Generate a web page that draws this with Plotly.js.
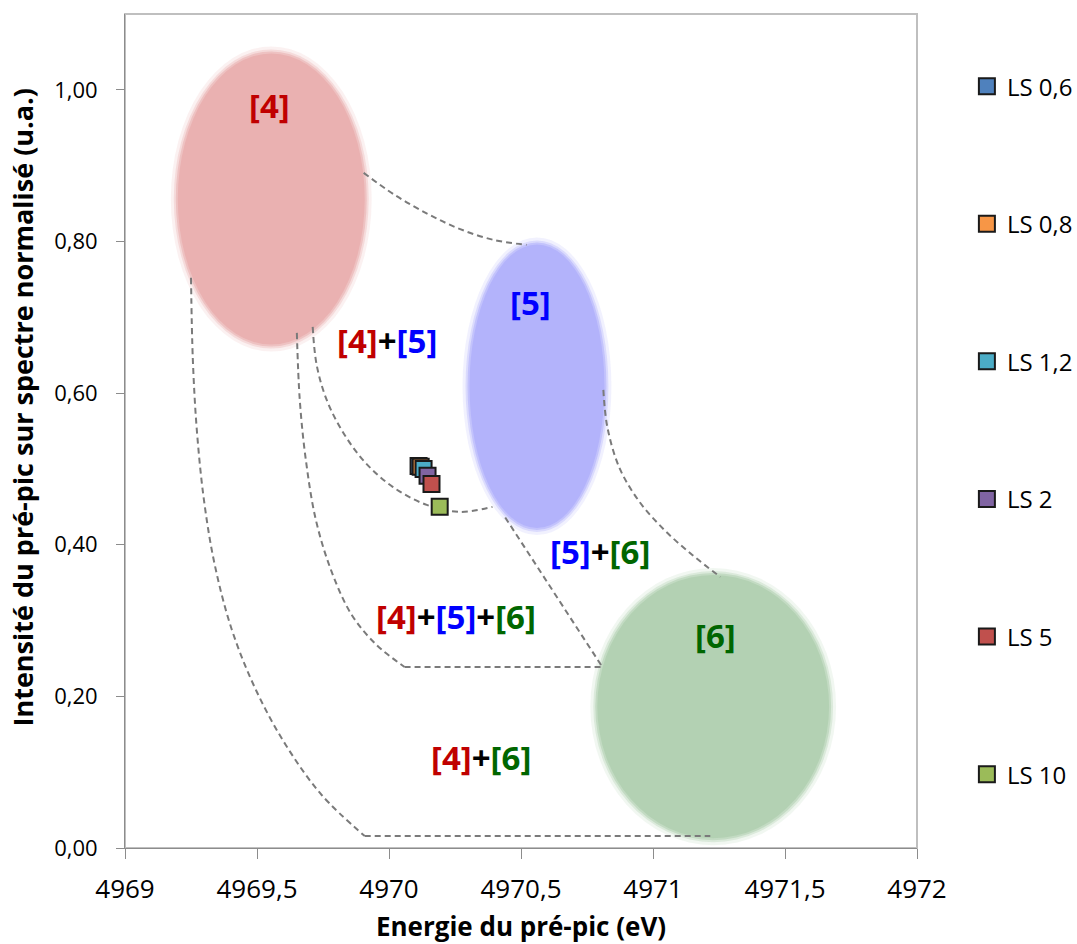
<!DOCTYPE html>
<html>
<head>
<meta charset="utf-8">
<script src="https://cdn.plot.ly/plotly-3.0.1.min.js"></script>
<style>html,body{margin:0;padding:0;background:#fff;}#chart{width:1077px;height:944px;}</style>
</head>
<body>
<div id="chart"></div>
<script>
// ---- series (energy in eV, normalised pre-peak intensity) ----
var seriesNames = ["LS 0,6", "LS 0,8", "LS 1,2", "LS 2", "LS 5", "LS 10"];
var seriesColors = ["#4f81bd", "#f79646", "#4bacc6", "#8064a2", "#c0504d", "#9bbb59"];
var seriesEnergy = [4970.112, 4970.120, 4970.131, 4970.146, 4970.161, 4970.192];
var seriesIntensity = [0.504, 0.503, 0.500, 0.491, 0.480, 0.450];

// ---- axis ticks ----
var xTickValues = [4969, 4969.5, 4970, 4970.5, 4971, 4971.5, 4972];
var xTickLabels = ["4969", "4969,5", "4970", "4970,5", "4971", "4971,5", "4972"];
var yTickValues = [0, 0.2, 0.4, 0.6, 0.8, 1.0];
var yTickLabels = ["0,00", "0,20", "0,40", "0,60", "0,80", "1,00"];

// ---- reference zones (ellipses) ----
var zoneNames = ["[4]", "[5]", "[6]"];
var zoneX0 = [4969.200, 4970.305, 4970.789];
var zoneX1 = [4969.908, 4970.816, 4971.667];
var zoneY0 = [0.664, 0.422, 0.013];
var zoneY1 = [1.048, 0.796, 0.360];
var zoneFill = ["rgb(234,177,177)", "rgb(179,179,251)", "rgb(179,209,179)"];

// ---- dashed boundary curves ----
var b1X = [4969.904, 4970.021, 4970.146, 4970.267, 4970.396, 4970.521];
var b1Y = [0.8905, 0.8615, 0.8364, 0.8166, 0.8021, 0.7955];
var b2X = [4969.711, 4969.726, 4969.764, 4969.825, 4969.908, 4970.014, 4970.143, 4970.267, 4970.392];
var b2Y = [0.6873, 0.6372, 0.5910, 0.5488, 0.5092, 0.4763, 0.4525, 0.4433, 0.4499];
var b3X = [4969.651, 4969.662, 4969.685, 4969.723, 4969.783, 4969.859, 4969.953, 4970.059];
var b3Y = [0.6794, 0.5910, 0.5119, 0.4327, 0.3641, 0.3074, 0.2678, 0.2388];
var b3sX = [4970.059, 4970.808, 4970.434];
var b3sY = [0.2388, 0.2388, 0.4393];
var b4X = [4969.250, 4969.257, 4969.272, 4969.299, 4969.340, 4969.405, 4969.496, 4969.609, 4969.745, 4969.908];
var b4Y = [0.752, 0.6438, 0.5515, 0.4591, 0.3734, 0.2876, 0.2084, 0.1359, 0.0699, 0.0158];
var b4sX = [4969.908, 4971.217];
var b4sY = [0.0158, 0.0158];
var b5X = [4970.812, 4970.827, 4970.873, 4970.949, 4971.043, 4971.149, 4971.255];
var b5Y = [0.6042, 0.5554, 0.5013, 0.4565, 0.4195, 0.3865, 0.3575];

// ---- region labels ----
var regionText = ["[4]", "[5]", "[6]", "[4]+[5]", "[5]+[6]", "[4]+[5]+[6]", "[4]+[6]"];
var regionX = [4969.549, 4970.536, 4971.236, 4969.991, 4970.801, 4970.252, 4970.347];
var regionY = [0.979, 0.720, 0.2797, 0.669, 0.3905, 0.3047, 0.120];

var zoneColors = {"[4]": "#c00000", "[5]": "#0000ff", "[6]": "#006600"};
function colourLabel(s) {
  return s.split("+").map(function (p) {
    return '<span style="color:' + zoneColors[p] + '">' + p + '</span>';
  }).join('<span style="color:#000000">+</span>');
}

var traces = [];
var dashLine = {color: "#7a7a7a", width: 2, dash: "6px,4px"};
[[b1X, b1Y, "spline"], [b2X, b2Y, "spline"], [b3X, b3Y, "spline"], [b3sX, b3sY, "linear"],
 [b4X, b4Y, "spline"], [b4sX, b4sY, "linear"], [b5X, b5Y, "spline"]].forEach(function (c) {
  traces.push({x: c[0], y: c[1], mode: "lines", type: "scatter", showlegend: false, hoverinfo: "skip",
    line: Object.assign({shape: c[2], smoothing: 1}, dashLine)});
});
for (var i = 0; i < seriesNames.length; i++) {
  traces.push({
    x: [seriesEnergy[i]], y: [seriesIntensity[i]], name: seriesNames[i], type: "scatter", mode: "markers",
    legendgroup: "g" + i,
    marker: {symbol: "square", size: 16, color: seriesColors[i], line: {color: "#1a1a1a", width: 2}}
  });
}

var shapes = [];
var pxX = 264.33, pxY = 758;
for (var z = 0; z < zoneNames.length; z++) {
  var halos = [[7, 0.18], [4, 0.35], [2, 0.6], [0, 1]];
  halos.forEach(function (h) {
    var dx = h[0] / pxX, dy = h[0] / pxY;
    shapes.push({type: "circle", xref: "x", yref: "y", layer: "below",
      x0: zoneX0[z] - dx, x1: zoneX1[z] + dx, y0: zoneY0[z] - dy, y1: zoneY1[z] + dy,
      fillcolor: zoneFill[z], opacity: h[1], line: {width: 0}});
  });
}
shapes.push({type: "rect", xref: "paper", yref: "paper", x0: 0, x1: 1, y0: 0, y1: 1,
  layer: "below", line: {color: "#bfbfbf", width: 2}});

var annotations = regionText.map(function (t, k) {
  return {x: regionX[k], y: regionY[k], xref: "x", yref: "y", text: colourLabel(t), showarrow: false,
    font: {family: "Open Sans", size: 33, weight: "bold"}, xanchor: "center", yanchor: "middle"};
});
annotations.push({xref: "paper", yref: "paper", x: 0, y: 0.5282, xshift: -103, showarrow: false,
  text: "Intensité du pré-pic sur spectre normalisé (u.a.)", textangle: -90,
  font: {family: "Open Sans", size: 27, weight: "bold", color: "#000"}, xanchor: "center", yanchor: "middle"});

var layout = {
  width: 1077, height: 944,
  margin: {l: 125, r: 160, t: 14, b: 96, pad: 0, autoexpand: false},
  paper_bgcolor: "#ffffff", plot_bgcolor: "#ffffff",
  font: {family: "Open Sans", color: "#000"},
  showlegend: true,
  legend: {x: 1.063, xanchor: "left", y: 0.94, yanchor: "top", tracegroupgap: 103.4,
    font: {family: "Open Sans", size: 24, color: "#000"}, bgcolor: "rgba(0,0,0,0)"},
  xaxis: {range: [4969, 4972], tickvals: xTickValues, ticktext: xTickLabels, showgrid: false, zeroline: false,
    showline: true, linecolor: "#8c8c8c", linewidth: 1, ticks: "outside", ticklen: 10, tickcolor: "#8c8c8c",
    tickfont: {family: "Open Sans", size: 26, color: "#000"}, ticklabelstandoff: 8,
    title: {text: "Energie du pré-pic (eV)", font: {family: "Open Sans", size: 26, weight: "bold", color: "#000"}, standoff: 23}},
  yaxis: {range: [0, 1.1], tickvals: yTickValues, ticktext: yTickLabels, showgrid: false, zeroline: false,
    showline: true, linecolor: "#8c8c8c", linewidth: 1, ticks: "outside", ticklen: 8, tickcolor: "#8c8c8c",
    tickfont: {family: "Open Sans", size: 22, color: "#000"}, ticklabelstandoff: 14},
  shapes: shapes,
  annotations: annotations
};

Plotly.newPlot("chart", traces, layout, {displayModeBar: false, staticPlot: true});
</script>
</body>
</html>
